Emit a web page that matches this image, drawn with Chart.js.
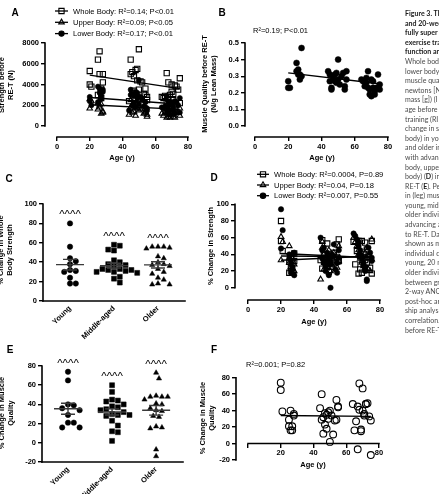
<!DOCTYPE html>
<html><head><meta charset="utf-8">
<script src="https://cdn.jsdelivr.net/npm/chart.js@4.4.1/dist/chart.umd.min.js"></script>
<style>
html,body{margin:0;padding:0;background:#fff;}
body{width:439px;height:494px;overflow:hidden;position:relative;font-family:'Liberation Sans',Arial,sans-serif;}
canvas{position:absolute;}
.t{position:absolute;white-space:nowrap;color:#000;transform:translate(-50%,-50%);}
.b{font-weight:bold;}
.let{font-size:10px;font-weight:bold;}
.ax{font-size:7.5px;font-weight:bold;}
.rot{transform:translate(-50%,-50%) rotate(-90deg);text-align:center;line-height:8.5px;font-size:7.5px;font-weight:bold;}
.ann{font-size:7.5px;transform:translateZ(0);}
#cap{position:absolute;left:405px;top:9px;width:34px;overflow:hidden;white-space:nowrap;font-family:Lato,'Open Sans',sans-serif;font-size:7px;line-height:9.6px;color:#4a4a4a;transform:translateZ(0);will-change:transform;}
#cap b{color:#1a1a1a;}
</style></head><body>
<canvas id="cA"></canvas><canvas id="cB"></canvas><canvas id="cC"></canvas>
<canvas id="cD"></canvas><canvas id="cE"></canvas><canvas id="cF"></canvas>

<div class="t let" style="left:15px;top:12px">A</div>
<div class="t let" style="left:222px;top:12px">B</div>
<div class="t let" style="left:9px;top:178px">C</div>
<div class="t let" style="left:214px;top:177px">D</div>
<div class="t let" style="left:10px;top:349px">E</div>
<div class="t let" style="left:214px;top:349px">F</div>

<div class="t rot" style="left:6px;top:85px">Strength before<br>RE-T (N)</div>
<div class="t rot" style="left:209px;top:84px">Muscle Quality before RE-T<br>(N/g Lean Mass)</div>
<div class="t rot" style="left:5px;top:250px">% Change in Whole<br>Body Strength</div>
<div class="t rot" style="left:211px;top:246px">% Change in Strength</div>
<div class="t rot" style="left:6px;top:413px">% Change in Muscle<br>Quality</div>
<div class="t rot" style="left:207px;top:418px">% Change in Muscle<br>Quality</div>

<div class="t ax" style="left:122px;top:157px">Age (y)</div>
<div class="t ax" style="left:322px;top:157px">Age (y)</div>
<div class="t ax" style="left:314px;top:321px">Age (y)</div>
<div class="t ax" style="left:313px;top:464px">Age (y)</div>

<div class="t ann" style="left:253px;top:26px">R²=0.19; P&lt;0.01</div>
<div class="t ann" style="left:246px;top:360px">R²=0.001; P=0.82</div>

<div id="cap"><b>Figure 3. Th</b><br><b>and 20-wee</b><br><b>fully super</b><br><b>exercise tra</b><br><b>function an</b><br>Whole bod<br>lower body<br>muscle qua<br>newtons [N<br>mass [g]) (I<br>age before<br>training (RI<br>change in s<br>body) in yo<br>and older in<br>with advan<br>body, uppe<br>body) (<b>D</b>) in<br>RE-T (<b>E</b>). Pe<br>in (leg) mus<br>young, mid<br>older indivi<br>advancing a<br>to RE-T. Da<br>shown as m<br>individual d<br>young, 20 m<br>older indivi<br>between gr<br>2-way ANO<br>post-hoc ar<br>ship analys<br>correlation.<br>before RE-T</div>

<script>
// ---------------- DATA ----------------
const groups = ['Young', 'Middle-aged', 'Older'];
const ageY = [20, 20, 21, 25, 25, 26, 26, 27, 27, 28, 28];
const ageM = [44, 45, 45, 46, 46, 47, 47, 48, 48, 49, 49, 50, 50, 51, 52, 53, 54, 54, 55, 55];
const ageO = [64, 65, 66, 67, 67, 68, 68, 69, 69, 70, 70, 71, 71, 72, 72, 73, 74, 75, 75];

// A: strength before RE-T (N)
const wholePreY = [5300, 4000, 3800, 6400, 3000, 7200, 5000, 2700, 3600, 5000, 4200];
const wholePreM = [2400, 6400, 5000, 5200, 3200, 4800, 3400, 5400, 2700, 5500, 4400, 7400, 3500, 4300, 4200, 3100, 3000, 3600, 2800, 2500];
const wholePreO = [2800, 2700, 2900, 5100, 2300, 4200, 2600, 3000, 1900, 4000, 3300, 3100, 2500, 3900, 2000, 3800, 3500, 4600, 2200];
const upperPreY = [2600, 1700, 2400, 2200, 1600, 2000, 1800, 1200, 2100, 1400, 1300];
const upperPreM = [1100, 2500, 1800, 2000, 1300, 1900, 1400, 2200, 1000, 2100, 1700, 2800, 1500, 1600, 1700, 1200, 1300, 1400, 1100, 900];
const upperPreO = [1200, 1000, 1300, 1900, 800, 1600, 900, 1100, 800, 1500, 1200, 1100, 900, 1400, 800, 1300, 1300, 1700, 1000];
const lowerPreY = [2400, 2800, 2000, 3800, 2300, 3600, 3200, 2600, 2900, 3500, 3300];
const lowerPreM = [1500, 3500, 3000, 3100, 2000, 2900, 2200, 3300, 1800, 3200, 2700, 4400, 2100, 2800, 2500, 1900, 1800, 2300, 1700, 1500];
const lowerPreO = [1800, 1700, 1900, 2900, 1300, 2400, 1600, 2000, 1100, 2300, 2100, 1900, 1500, 2400, 1200, 2300, 2000, 2700, 1300];
const fitAge = [20, 75];
const fitWholePre = [4900, 3600];
const fitLowerPre = [2750, 2100];
const fitUpperPre = [2050, 1600];
const strengthTicks = [0, 2000, 4000, 6000, 8000];

// B: muscle quality before RE-T (N/g lean mass)
const mqPreY = [0.27, 0.23, 0.23, 0.38, 0.33, 0.34, 0.31, 0.28, 0.31, 0.47, 0.30];
const mqPreM = [0.33, 0.31, 0.27, 0.23, 0.22, 0.28, 0.30, 0.27, 0.31, 0.26, 0.32, 0.40, 0.28, 0.25, 0.30, 0.32, 0.24, 0.22, 0.33, 0.28];
const mqPreO = [0.28, 0.27, 0.24, 0.26, 0.29, 0.33, 0.23, 0.22, 0.19, 0.18, 0.28, 0.23, 0.27, 0.19, 0.21, 0.23, 0.31, 0.22, 0.25];
const fitMqPre = [0.32, 0.255];
const mqTicks = [0, 0.1, 0.2, 0.3, 0.4, 0.5];

// C / D: % change in strength
const wholeChangeY = [80, 56, 44, 18, 31, 24, 38, 18, 30, 41, 32];
const wholeChangeM = [33, 57, 23, 40, 31, 36, 30, 53, 29, 32, 19, 25, 38, 33, 42, 30, 37, 52, 58, 32];
const wholeChangeO = [55, 28, 44, 17, 56, 38, 22, 56, 18, 40, 36, 54, 33, 46, 30, 37, 24, 56, 17];
const upperChangeY = [61, 33, 55, 50, 30, 25, 22, 40, 35, 28, 20];
const upperChangeM = [10, 55, 48, 22, 40, 35, 30, 28, 25, 45, 38, 20, 33, 27, 42, 36, 30, 24, 50, 32];
const upperChangeO = [60, 55, 50, 45, 40, 38, 35, 32, 30, 28, 26, 24, 42, 48, 36, 22, 20, 58, 34];
const lowerChangeY = [94, 47, 69, 40, 35, 30, 18, 22, 25, 42, 15];
const lowerChangeM = [60, 45, 35, 30, 48, 25, 20, 38, 42, 15, 33, 0, 28, 40, 52, 22, 30, 18, 45, 36];
const lowerChangeO = [65, 62, 58, 55, 50, 45, 40, 38, 35, 30, 28, 25, 20, 10, 8, 48, 42, 32, 36];
const fitWholeChange = [38, 37];
const fitUpperChange = [33, 38];
const fitLowerChange = [41, 36];
const pctTicks = [0, 20, 40, 60, 80, 100];

// E / F: % change in muscle quality
const mqChangeY = [74, 65, 39, 21, 29, 16, 40, 21, 16, 36, 34];
const mqChangeM = [43, 60, 29, 12, 32, 37, 23, 35, 18, 38, 30, 2, 40, 34, 11, 28, 53, 29, 44, 45];
const mqChangeO = [48, 16, 27, 45, -7, 41, 73, 15, 17, 67, 40, 34, 36, 48, 48, 49, 33, 28, -14];
const fitMqChange = [34, 33];
const mqPctTicks = [-20, 0, 20, 40, 60, 80];
const ageTicks = [0, 20, 40, 60, 80];

const legendA = ['Whole Body: R²=0.14; P<0.01', 'Upper Body: R²=0.09; P<0.05', 'Lower Body: R²=0.17; P<0.01'];
const legendD = ['Whole Body: R²=0.0004, P=0.89', 'Upper Body: R²=0.04, P=0.18', 'Lower Body: R²=0.007, P=0.55'];

// ---------------- HELPERS ----------------
const FONT = "'Liberation Sans', Arial, sans-serif";
const cat = (a, b, c) => a.concat(b, c);
const pts = (xs, ys) => xs.map((x, i) => ({x, y: ys[i]}));
const CLEAR = 'rgba(0,0,0,0)';

function sym(style, filled, r, data, label, legend) {
  return {type: 'scatter', label, data, pointStyle: style, pointRadius: r,
    backgroundColor: filled ? '#000' : CLEAR, borderColor: '#000', borderWidth: filled ? 0.5 : 1.1,
    order: 2, clip: false, _legend: !!legend, _filled: filled};
}
function fitLine(ys) {
  return {type: 'line', data: pts(fitAge, ys), borderColor: '#000', borderWidth: 1.4,
    pointRadius: 0, fill: false, order: 0, showLine: true};
}
function swarmX(vals, center, pxY, pxX, d) {
  const order = vals.map((v, i) => i).sort((a, b) => vals[b] - vals[a]);
  const placed = [], xs = new Array(vals.length);
  const cand = [0];
  for (let k = 1; k < 14; k++) cand.push(k * d / 2, -k * d / 2);
  for (const i of order) {
    const py = vals[i] * pxY;
    let off = 0;
    for (const c of cand) {
      if (placed.every(p => Math.hypot(p.x - c, p.y - py) >= d)) { off = c; break; }
    }
    placed.push({x: off, y: py});
    xs[i] = center + off / pxX;
  }
  return xs;
}

const prismAxes = {
  id: 'prismAxes',
  afterDraw(chart, args, o) {
    if (!o || !o.x) return;
    const {ctx, chartArea, scales: {x, y}} = chart;
    ctx.save();
    ctx.strokeStyle = '#000'; ctx.lineWidth = 1.6; ctx.lineCap = 'square';
    const yy = o.xAt === undefined ? chartArea.bottom : y.getPixelForValue(o.xAt);
    ctx.beginPath(); ctx.moveTo(x.getPixelForValue(o.x[0]), yy); ctx.lineTo(x.getPixelForValue(o.x[1]), yy); ctx.stroke();
    ctx.beginPath(); ctx.moveTo(chartArea.left, y.getPixelForValue(o.y[0])); ctx.lineTo(chartArea.left, y.getPixelForValue(o.y[1])); ctx.stroke();
    ctx.restore();
  }
};
const prismLegend = {
  id: 'prismLegend',
  afterDraw(chart, args, o) {
    if (!o || o.x === undefined) return;
    const ctx = chart.ctx;
    const items = chart.data.datasets.filter(d => d._legend);
    items.forEach((d, i) => {
      const y = o.y + i * o.dy;
      ctx.save();
      ctx.strokeStyle = '#000'; ctx.lineWidth = 1.3;
      ctx.beginPath(); ctx.moveTo(o.x, y); ctx.lineTo(o.x + o.w, y); ctx.stroke();
      ctx.fillStyle = d._filled ? '#000' : CLEAR; ctx.lineWidth = 1.1;
      Chart.helpers.drawPoint(ctx, {pointStyle: d.pointStyle, radius: d.pointRadius, rotation: 0, borderWidth: 1.1}, o.x + o.w / 2, y);
      ctx.fillStyle = '#000'; ctx.font = `7.6px ${FONT}`; ctx.textBaseline = 'middle'; ctx.textAlign = 'left';
      ctx.fillText(d.label, o.x + o.w + 5, y + 0.5);
      ctx.restore();
    });
  }
};
const groupStats = {
  id: 'groupStats',
  afterDatasetsDraw(chart, args, o) {
    if (!o || !o.groups) return;
    const {ctx, scales: {x, y}} = chart;
    ctx.save();
    o.groups.forEach((vals, gi) => {
      const cx = x.getPixelForValue(gi + 1);
      const n = vals.length, m = vals.reduce((a, b) => a + b, 0) / n;
      const sd = Math.sqrt(vals.reduce((a, b) => a + (b - m) ** 2, 0) / (n - 1));
      const se = sd / Math.sqrt(n);
      const ym = y.getPixelForValue(m), yt = y.getPixelForValue(m + se), yb = y.getPixelForValue(m - se);
      ctx.strokeStyle = '#3a3a3a'; ctx.lineWidth = 1.4;
      ctx.beginPath();
      ctx.moveTo(cx - 14, ym); ctx.lineTo(cx + 14, ym);
      ctx.moveTo(cx, yt); ctx.lineTo(cx, yb);
      ctx.moveTo(cx - 7, yt); ctx.lineTo(cx + 7, yt);
      ctx.moveTo(cx - 7, yb); ctx.lineTo(cx + 7, yb);
      ctx.stroke();
      const top = y.getPixelForValue(Math.max(...vals));
      ctx.fillStyle = '#000'; ctx.font = `11.5px ${FONT}`; ctx.textAlign = 'center'; ctx.textBaseline = 'top';
      ctx.fillText('^^^^', cx, top - 14);
    });
    ctx.restore();
  }
};
Chart.register(prismAxes, prismLegend, groupStats);

function makeChart(id, box, area, c) {
  const cv = document.getElementById(id);
  cv.style.left = box.x + 'px'; cv.style.top = box.y + 'px';
  cv.width = box.w; cv.height = box.h;
  cv.style.width = box.w + 'px'; cv.style.height = box.h + 'px';
  const tickFont = {family: FONT, size: 7.5, weight: 'bold'};
  const grid = (show) => ({display: true, drawOnChartArea: false, drawTicks: show, tickLength: show ? 4 : 0, color: '#000', lineWidth: 1.4});
  const xPos = c.x.position || 'bottom';
  return new Chart(cv, {
    type: 'scatter',
    data: {datasets: c.datasets},
    options: {
      responsive: false, animation: false, events: [],
      layout: {padding: {left: 0, top: area.t - box.y, right: box.x + box.w - area.r,
        bottom: c.x.position ? box.y + box.h - area.b : 0}},
      scales: {
        x: {type: 'linear', min: c.x.min, max: c.x.max, position: xPos,
          afterBuildTicks: s => { s.ticks = c.x.ticks.map(v => ({value: v})); },
          afterFit: s => { if (!c.x.position) s.height = box.y + box.h - area.b; },
          grid: grid(!c.x.noTicks), border: {display: false},
          ticks: {color: '#000', font: tickFont, padding: c.x.pad || 1, autoSkip: false,
            maxRotation: c.x.rot || 0, minRotation: c.x.rot || 0,
            callback: c.x.labels ? (v => c.x.labels[v - 1]) : (c.x.cb || (v => String(v)))}},
        y: {type: 'linear', min: c.y.min, max: c.y.max,
          afterBuildTicks: s => { s.ticks = c.y.ticks.map(v => ({value: v})); },
          afterFit: s => { s.width = area.l - box.x; },
          grid: grid(true), border: {display: false},
          ticks: {color: '#000', font: tickFont, padding: 2, callback: c.y.cb || (v => String(v))}}
      },
      plugins: {legend: {display: false}, tooltip: {enabled: false},
        prismAxes: c.axes, prismLegend: c.legend || {}, groupStats: c.stats ? {groups: c.stats} : {}}
    }
  });
}

// ---------------- PANEL A ----------------
makeChart('cA', {x: 0, y: 0, w: 200, h: 165}, {l: 45, t: 43, r: 188, b: 137}, {
  x: {min: -7.33, max: 80, ticks: ageTicks},
  y: {min: -1060, max: 8000, ticks: strengthTicks},
  axes: {x: [0, 80], y: [0, 8000]},
  legend: {x: 55, y: 11, dy: 11.3, w: 13},
  datasets: [
    sym('rect', false, 3.7, pts(cat(ageY, ageM, ageO), cat(wholePreY, wholePreM, wholePreO)), legendA[0], true),
    sym('triangle', false, 3.2, pts(cat(ageY, ageM, ageO), cat(upperPreY, upperPreM, upperPreO)), legendA[1], true),
    sym('circle', true, 2.6, pts(cat(ageY, ageM, ageO), cat(lowerPreY, lowerPreM, lowerPreO)), legendA[2], true),
    fitLine(fitWholePre), fitLine(fitLowerPre), fitLine(fitUpperPre)
  ]
});

// ---------------- PANEL B ----------------
makeChart('cB', {x: 200, y: 0, w: 200, h: 165}, {l: 245, t: 43, r: 388, b: 137}, {
  x: {min: -6.0, max: 80, ticks: ageTicks},
  y: {min: -0.066, max: 0.5, ticks: mqTicks, cb: v => v.toFixed(1)},
  axes: {x: [0, 80], y: [0, 0.5]},
  datasets: [
    sym('circle', true, 3, pts(cat(ageY, ageM, ageO), cat(mqPreY, mqPreM, mqPreO)), 'Muscle quality'),
    fitLine(fitMqPre)
  ]
});

// ---------------- PANEL C ----------------
(function () {
  const area = {l: 43, t: 204, r: 185, b: 301};
  const pxY = (area.b - area.t) / 100, pxX = 44;
  makeChart('cC', {x: 0, y: 165, w: 200, h: 180}, area, {
    x: {min: 0.386, max: 3.614, ticks: [1, 2, 3], labels: groups, rot: 45, noTicks: true, pad: 3},
    y: {min: 0, max: 100, ticks: pctTicks},
    axes: {x: [0.386, 3.614], y: [0, 100]},
    stats: [wholeChangeY, wholeChangeM, wholeChangeO],
    datasets: [
      sym('circle', true, 2.7, pts(swarmX(wholeChangeY, 1, pxY, pxX, 5.8), wholeChangeY), groups[0]),
      sym('rect', true, 3.5, pts(swarmX(wholeChangeM, 2, pxY, pxX, 5.8), wholeChangeM), groups[1]),
      sym('triangle', true, 3.0, pts(swarmX(wholeChangeO, 3, pxY, pxX, 5.8), wholeChangeO), groups[2])
    ]
  });
})();

// ---------------- PANEL D ----------------
makeChart('cD', {x: 200, y: 165, w: 200, h: 170}, {l: 235, t: 204.3, r: 380, b: 300}, {
  x: {min: -7.9, max: 80, ticks: ageTicks},
  y: {min: -14.7, max: 100, ticks: pctTicks},
  axes: {x: [0, 80], y: [0, 100]},
  legend: {x: 57, y: 9.3, dy: 10.7, w: 12},
  datasets: [
    sym('rect', false, 3.7, pts(cat(ageY, ageM, ageO), cat(wholeChangeY, wholeChangeM, wholeChangeO)), legendD[0], true),
    sym('triangle', false, 3.2, pts(cat(ageY, ageM, ageO), cat(upperChangeY, upperChangeM, upperChangeO)), legendD[1], true),
    sym('circle', true, 2.7, pts(cat(ageY, ageM, ageO), cat(lowerChangeY, lowerChangeM, lowerChangeO)), legendD[2], true),
    fitLine(fitWholeChange), fitLine(fitUpperChange), fitLine(fitLowerChange)
  ]
});

// ---------------- PANEL E ----------------
(function () {
  const area = {l: 42, t: 366, r: 183, b: 462};
  const pxY = (area.b - area.t) / 100, pxX = 44;
  makeChart('cE', {x: 0, y: 345, w: 200, h: 149}, area, {
    x: {min: 0.41, max: 3.61, ticks: [1, 2, 3], labels: groups, rot: 45, noTicks: true, pad: 3},
    y: {min: -20, max: 80, ticks: mqPctTicks},
    axes: {x: [0.41, 3.61], y: [-20, 80]},
    stats: [mqChangeY, mqChangeM, mqChangeO],
    datasets: [
      sym('circle', true, 2.7, pts(swarmX(mqChangeY, 1, pxY, pxX, 5.8), mqChangeY), groups[0]),
      sym('rect', true, 3.5, pts(swarmX(mqChangeM, 2, pxY, pxX, 5.8), mqChangeM), groups[1]),
      sym('triangle', true, 3.0, pts(swarmX(mqChangeO, 3, pxY, pxX, 5.8), mqChangeO), groups[2])
    ]
  });
})();

// ---------------- PANEL F ----------------
makeChart('cF', {x: 200, y: 335, w: 200, h: 159}, {l: 236, t: 377.7, r: 379, b: 460}, {
  x: {min: -7.33, max: 80, ticks: ageTicks, position: {y: 0}, cb: v => (v === 0 ? '' : String(v))},
  y: {min: -20, max: 80, ticks: mqPctTicks},
  axes: {x: [0, 80], y: [-20, 80], xAt: 0},
  datasets: [
    sym('circle', false, 3.4, pts(cat(ageY, ageM, ageO), cat(mqChangeY, mqChangeM, mqChangeO)), 'Muscle quality change'),
    fitLine(fitMqChange)
  ]
});
</script>
</body></html>
